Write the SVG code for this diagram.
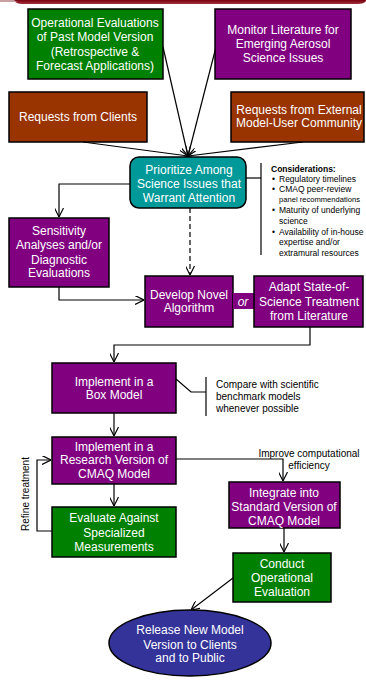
<svg xmlns="http://www.w3.org/2000/svg" width="366" height="690" viewBox="0 0 366 690">
<style>
.box{stroke:#000;stroke-width:1.5}
.g{fill:#008000}.p{fill:#800080}.b{fill:#993300}.t{fill:#009999}.e{fill:#333399}
text{font-family:"Liberation Sans",Arial,sans-serif}
.w{fill:#fff;font-size:12px;text-anchor:middle}
.k{fill:#000;font-size:10px}
.c{fill:#000;font-size:8.5px}
.ln{fill:none;stroke:#000;stroke-width:1.2}
</style>
<defs>
<marker id="ah" viewBox="0 0 10 10" refX="10" refY="5" markerWidth="9" markerHeight="9" markerUnits="userSpaceOnUse" orient="auto">
<path d="M0,0 L10,5 L0,10" fill="none" stroke="#000" stroke-width="1.3"/>
</marker>
<linearGradient id="bar" x1="0" y1="0" x2="0" y2="1">
<stop offset="0" stop-color="#7a0010"/><stop offset="1" stop-color="#a0303a"/>
</linearGradient>
</defs>
<path d="M0,0 H366 V1 Q364,4 358,4 H22 Q17,4 14,1 H0 Z" fill="url(#bar)"/>
<path d="M0,0 H14 Q16,2 18,2 H0 Z" fill="#c8a0a4"/>

<g id="connectors">
<line class="ln" x1="163" y1="47" x2="188" y2="156" marker-end="url(#ah)"/>
<line class="ln" x1="216" y1="47" x2="188" y2="156" marker-end="url(#ah)"/>
<line class="ln" x1="83" y1="142" x2="188" y2="156" marker-end="url(#ah)"/>
<line class="ln" x1="303" y1="142" x2="188" y2="156" marker-end="url(#ah)"/>
<path class="ln" d="M130,184 H59 V217" marker-end="url(#ah)"/>
<path class="ln" d="M59,287 V300 H144" marker-end="url(#ah)"/>
<path class="ln" d="M190,208 V275" stroke-dasharray="5,3" marker-end="url(#ah)"/>
<path class="ln" d="M310,327 V345 H114 V362" marker-end="url(#ah)"/>
<path class="ln" d="M114,413 V436" marker-end="url(#ah)"/>
<path class="ln" d="M114,484 V506" marker-end="url(#ah)"/>
<path class="ln" d="M52,531 H37 V460 H51" marker-end="url(#ah)"/>
<path class="ln" d="M176,459 H283 V481" marker-end="url(#ah)"/>
<path class="ln" d="M284,528 V552" marker-end="url(#ah)"/>
<line class="ln" x1="233" y1="578" x2="191" y2="610" marker-end="url(#ah)"/>
<path class="ln" d="M246,178 H261"/>
<path class="ln" d="M261,163 V255"/>
<path class="ln" d="M176,379 L191,392 H206"/>
<path class="ln" d="M206,377 V416"/>
</g>

<g id="n-operational">
<rect class="box g" x="28" y="9" width="135" height="70"/>
<text class="w" x="95" y="27">Operational Evaluations</text>
<text class="w" x="95" y="41">of Past Model Version</text>
<text class="w" x="95" y="56">(Retrospective &amp;</text>
<text class="w" x="95" y="70">Forecast Applications)</text>
</g>
<g id="n-monitor">
<rect class="box p" x="215" y="9" width="136" height="70"/>
<text class="w" x="283" y="34">Monitor Literature for</text>
<text class="w" x="283" y="48">Emerging Aerosol</text>
<text class="w" x="283" y="62">Science Issues</text>
</g>
<g id="n-clients">
<rect class="box b" x="9" y="92" width="138" height="50"/>
<text class="w" x="78" y="121">Requests from Clients</text>
</g>
<g id="n-external">
<rect class="box b" x="231" y="92" width="133" height="50"/>
<text class="w" x="299" y="114">Requests from External</text>
<text class="w" x="299" y="127">Model-User Community</text>
</g>
<g id="n-prioritize">
<rect class="box t" x="130" y="157" width="116" height="51" rx="9"/>
<text class="w" x="189" y="174">Prioritize Among</text>
<text class="w" x="189" y="188">Science Issues that</text>
<text class="w" x="189" y="202">Warrant Attention</text>
</g>
<g id="n-considerations">
<text class="c" x="271" y="172" font-weight="bold">Considerations:</text>
<text class="c" x="272" y="182">•</text><text class="c" x="279" y="182">Regulatory timelines</text>
<text class="c" x="272" y="192">•</text><text class="c" x="279" y="192">CMAQ peer-review</text>
<text class="c" x="279" y="202" style="font-size:7.6px">panel recommendations</text>
<text class="c" x="272" y="213">•</text><text class="c" x="279" y="213">Maturity of underlying</text>
<text class="c" x="279" y="224">science</text>
<text class="c" x="272" y="235">•</text><text class="c" x="279" y="235">Availability of in-house</text>
<text class="c" x="279" y="245">expertise and/or</text>
<text class="c" x="279" y="256">extramural resources</text>
</g>
<g id="n-sensitivity">
<rect class="box p" x="9" y="218" width="100" height="69"/>
<text class="w" x="59" y="235">Sensitivity</text>
<text class="w" x="59" y="249">Analyses and/or</text>
<text class="w" x="59" y="264">Diagnostic</text>
<text class="w" x="59" y="277">Evaluations</text>
</g>
<g id="n-develop">
<rect class="box p" x="145" y="276" width="88" height="51"/>
<text class="w" x="189" y="299">Develop Novel</text>
<text class="w" x="189" y="312">Algorithm</text>
</g>
<g id="n-or">
<rect x="233" y="293" width="21" height="16" fill="#800080"/>
<text class="w" x="243" y="306" font-style="italic">or</text>
</g>
<g id="n-adapt">
<rect class="box p" x="254" y="276" width="109" height="51"/>
<text class="w" x="309" y="291">Adapt State-of-</text>
<text class="w" x="309" y="306">Science Treatment</text>
<text class="w" x="309" y="320">from Literature</text>
</g>
<g id="n-box">
<rect class="box p" x="52" y="363" width="124" height="50"/>
<text class="w" x="114" y="386">Implement in a</text>
<text class="w" x="114" y="399">Box Model</text>
</g>
<g id="n-compare">
<text class="k" x="216" y="388">Compare with scientific</text>
<text class="k" x="216" y="400">benchmark models</text>
<text class="k" x="216" y="412">whenever possible</text>
</g>
<g id="n-research">
<rect class="box p" x="52" y="437" width="124" height="47"/>
<text class="w" x="114" y="451">Implement in a</text>
<text class="w" x="114" y="464">Research Version of</text>
<text class="w" x="114" y="478">CMAQ Model</text>
</g>
<g id="n-evaluate">
<rect class="box g" x="52" y="507" width="124" height="50"/>
<text class="w" x="114" y="522">Evaluate Against</text>
<text class="w" x="114" y="537">Specialized</text>
<text class="w" x="114" y="551">Measurements</text>
</g>
<g id="n-refine">
<text class="k" x="0" y="0" text-anchor="middle" transform="translate(29,494) rotate(-90)">Refine treatment</text>
</g>
<g id="n-improve">
<text class="k" x="309" y="457" text-anchor="middle">Improve computational</text>
<text class="k" x="309" y="469" text-anchor="middle">efficiency</text>
</g>
<g id="n-integrate">
<rect class="box p" x="229" y="482" width="111" height="46"/>
<text class="w" x="284" y="497">Integrate into</text>
<text class="w" x="284" y="511">Standard Version of</text>
<text class="w" x="284" y="525">CMAQ Model</text>
</g>
<g id="n-conduct">
<rect class="box g" x="233" y="553" width="98" height="49"/>
<text class="w" x="282" y="568">Conduct</text>
<text class="w" x="282" y="582">Operational</text>
<text class="w" x="282" y="596">Evaluation</text>
</g>
<g id="n-release">
<ellipse class="box e" cx="190" cy="643" rx="81" ry="33"/>
<text class="w" x="190" y="634">Release New Model</text>
<text class="w" x="190" y="649">Version to Clients</text>
<text class="w" x="190" y="662">and to Public</text>
</g>
</svg>
